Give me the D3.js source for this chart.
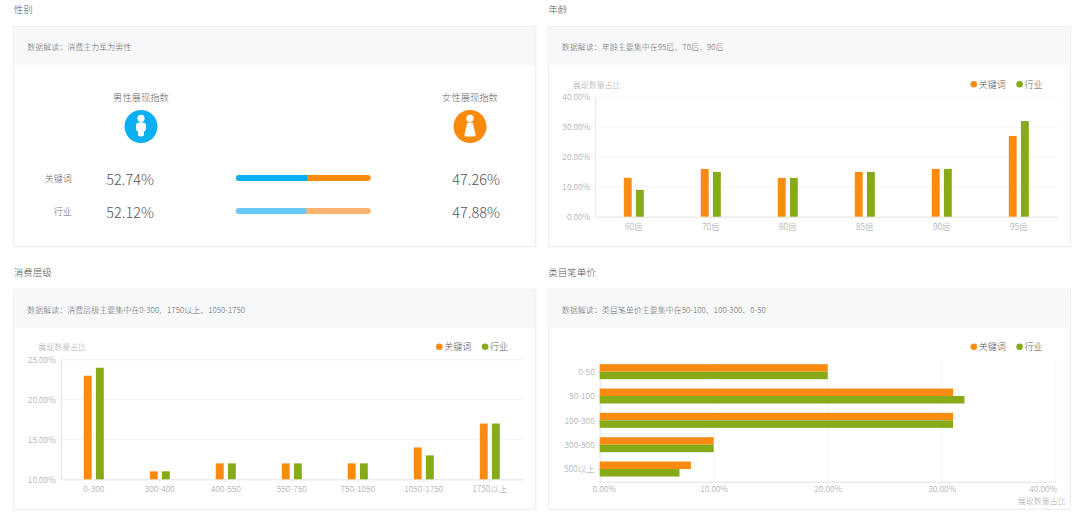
<!DOCTYPE html>
<html>
<head>
<meta charset="utf-8">
<script src="https://cdn.jsdelivr.net/npm/d3@7"></script>
<style>
  body { margin: 0; background: #fff; }
  text { font-family: "Noto Sans CJK SC", "Noto Sans", sans-serif; font-weight: 300; }
</style>
</head>
<body>
<div id="chart"></div>
<script>
// ---- data ----
const SERIES = ["关键词", "行业"];

const GENDER_ROWS = ["关键词", "行业"];
const MALE = [52.74, 52.12];
const FEMALE = [47.26, 47.88];

const AGE_CATS = ["60后", "70后", "80后", "85后", "90后", "95后"];
const AGE_KEYWORD = [13, 16, 13, 15, 16, 27];
const AGE_INDUSTRY = [9, 15, 13, 15, 16, 32];
const AGE_TICKS = [0, 10, 20, 30, 40];

const SPEND_CATS = ["0-300", "300-400", "400-550", "550-750", "750-1050", "1050-1750", "1750以上"];
const SPEND_KEYWORD = [23, 11, 12, 12, 12, 14, 17];
const SPEND_INDUSTRY = [24, 11, 12, 12, 12, 13, 17];
const SPEND_TICKS = [10, 15, 20, 25];

const PRICE_CATS = ["0-50", "50-100", "100-300", "300-500", "500以上"];
const PRICE_KEYWORD = [20, 31, 31, 10, 8];
const PRICE_INDUSTRY = [20, 32, 31, 10, 7];
const PRICE_TICKS = [0, 10, 20, 30, 40];

const TITLES = ["性别", "年龄", "消费层级", "类目笔单价"];
const NOTES = [
  "数据解读：消费主力军为男性",
  "数据解读：年龄主要集中在95后、70后、90后",
  "数据解读：消费层级主要集中在0-300、1750以上、1050-1750",
  "数据解读：类目笔单价主要集中在50-100、100-300、0-50"
];
const AXIS_NAME = "展现数量占比";

// ---- layout ----
const W = 1080, H = 519;
const CARD_W = 522, CARD_H = 220;
const ORANGE = "#f98b11", GREEN = "#86aa18";
const color = d3.scaleOrdinal().domain(SERIES).range([ORANGE, GREEN]);
const pct = d => d.toFixed(2) + "%";

const svg = d3.select("#chart").append("svg")
  .attr("width", W)
  .attr("height", H);

function card(x, y, title, note) {
  svg.append("text")
    .attr("x", x).attr("y", y - 17.3)
    .attr("dominant-baseline", "central")
    .attr("font-size", 9.5).attr("fill", "#555")
    .text(title);
  var g = svg.append("g").attr("transform", "translate(" + x + "," + y + ")");
  g.append("rect")
    .attr("width", CARD_W).attr("height", CARD_H)
    .attr("fill", "#fff").attr("stroke", "#ececec");
  g.append("rect")
    .attr("x", 0.5).attr("y", 0.5)
    .attr("width", CARD_W - 1).attr("height", 38)
    .attr("fill", "#f7f8fa");
  g.append("text")
    .attr("x", 13.5).attr("y", 20)
    .attr("dominant-baseline", "central")
    .attr("font-size", 8).attr("fill", "#666")
    .text(note);
  return g;
}

function legend(g) {
  var items = g.append("g").attr("transform", "translate(" + (CARD_W - 96.5) + ",57.5)");
  var item = items.selectAll("g").data(SERIES).join("g")
    .attr("transform", function(d, i) { return "translate(" + (i * 45.8) + ",0)"; });
  item.append("circle").attr("r", 3.3).attr("fill", function(d) { return color(d); });
  item.append("text")
    .attr("x", 5).attr("dominant-baseline", "central")
    .attr("font-size", 9).attr("fill", "#555")
    .text(function(d) { return d; });
}

function styleAxis(a, size) {
  a.select(".domain").attr("stroke", "#e3e3e3");
  a.selectAll(".tick line").attr("stroke", "#e3e3e3");
  a.selectAll(".tick text")
    .attr("fill", "#a0a0a0")
    .attr("font-size", size)
    .style("font-family", "'Noto Sans CJK SC', 'Noto Sans', sans-serif")
    .style("font-weight", 300);
}

/*********** vertical grouped bars ***********/
function vbars(g, cats, kv, iv, ticks) {
  var left = 47, right = CARD_W - 13, top = 70.5, bottom = 190;
  var x0 = d3.scaleBand().domain(cats).range([left, right]);
  var x1 = d3.scaleBand().domain(SERIES)
    .range([x0.bandwidth() / 2 - 10, x0.bandwidth() / 2 + 10])
    .paddingInner(0.35);
  var y = d3.scaleLinear().domain(d3.extent(ticks)).range([bottom, top]);

  g.append("g").selectAll("line").data(ticks.slice(1)).join("line")
    .attr("x1", left).attr("x2", right)
    .attr("y1", function(d) { return y(d); })
    .attr("y2", function(d) { return y(d); })
    .attr("stroke", "#f3f3f3");

  var ya = g.append("g")
    .attr("transform", "translate(" + left + ",0)")
    .call(d3.axisLeft(y).tickValues(ticks).tickSize(0).tickPadding(5).tickFormat(pct));
  styleAxis(ya, 8.5);

  var xa = g.append("g")
    .attr("transform", "translate(0," + bottom + ")")
    .call(d3.axisBottom(x0).tickSizeInner(3).tickSizeOuter(0).tickPadding(4));
  styleAxis(xa, 8.5);

  var rows = [];
  cats.forEach(function(c, j) {
    rows.push({ c: c, s: SERIES[0], v: kv[j] });
    rows.push({ c: c, s: SERIES[1], v: iv[j] });
  });
  g.append("g").selectAll("rect").data(rows).join("rect")
    .attr("x", function(d) { return x0(d.c) + x1(d.s); })
    .attr("y", function(d) { return y(d.v); })
    .attr("width", x1.bandwidth())
    .attr("height", function(d) { return bottom - y(d.v); })
    .attr("fill", function(d) { return color(d.s); });

  g.append("text")
    .attr("x", 24.5).attr("y", 57.5)
    .attr("dominant-baseline", "central")
    .attr("font-size", 8).attr("fill", "#aaa")
    .text(AXIS_NAME);
  legend(g);
}

/*********** horizontal grouped bars ***********/
function hbars(g, cats, kv, iv, ticks) {
  var left = 51.4, right = 507.4, top = 70.7, bottom = 192.4;
  var x = d3.scaleLinear().domain(d3.extent(ticks)).range([left, right]);
  var y0 = d3.scaleBand().domain(cats).range([top, bottom]);
  var y1 = d3.scaleBand().domain(SERIES)
    .range([y0.bandwidth() / 2 - 8, y0.bandwidth() / 2 + 7]);

  g.append("g").selectAll("line").data(ticks.slice(1)).join("line")
    .attr("x1", function(d) { return x(d); })
    .attr("x2", function(d) { return x(d); })
    .attr("y1", top).attr("y2", bottom)
    .attr("stroke", "#f3f3f3");

  var xa = g.append("g")
    .attr("transform", "translate(0," + bottom + ")")
    .call(d3.axisBottom(x).tickValues(ticks).tickSize(0).tickPadding(4.5).tickFormat(pct));
  styleAxis(xa, 8.5);
  xa.selectAll(".tick text").filter(function(d, i) { return i == 0; })
    .attr("dx", 4);
  xa.selectAll(".tick text").filter(function(d, i) { return i == ticks.length - 1; })
    .attr("text-anchor", "end").attr("dx", 1);

  var ya = g.append("g")
    .attr("transform", "translate(" + left + ",0)")
    .call(d3.axisLeft(y0).tickSizeInner(3).tickSizeOuter(0).tickPadding(2));
  styleAxis(ya, 8.5);

  var rows = [];
  cats.forEach(function(c, j) {
    rows.push({ c: c, s: SERIES[0], v: kv[j] });
    rows.push({ c: c, s: SERIES[1], v: iv[j] });
  });
  g.append("g").selectAll("rect").data(rows).join("rect")
    .attr("x", left)
    .attr("y", function(d) { return y0(d.c) + y1(d.s); })
    .attr("width", function(d) { return x(d.v) - left; })
    .attr("height", y1.bandwidth())
    .attr("fill", function(d) { return color(d.s); });

  g.append("text")
    .attr("x", CARD_W - 4.6).attr("y", 211.7)
    .attr("text-anchor", "end")
    .attr("dominant-baseline", "central")
    .attr("font-size", 8).attr("fill", "#aaa")
    .text(AXIS_NAME);
  legend(g);
}

/*********** gender panel ***********/
function gender(g) {
  var rowY = d3.scalePoint().domain(GENDER_ROWS).range([151.3, 184.3]);
  var bx = d3.scaleLinear().domain([0, 100]).range([222.2, 356.9]);
  var male = ["#0bb0f2", "#66caf6"], female = ["#fa8a0c", "#fbb36f"];
  var heads = [
    { label: "男性展现指数", x: 127.2, fill: "#0bb0f2", kind: "m" },
    { label: "女性展现指数", x: 456.2, fill: "#fa8a0c", kind: "f" }
  ];
  var h = g.selectAll("g.head").data(heads).join("g").attr("class", "head")
    .attr("transform", function(d) { return "translate(" + d.x + ",0)"; });
  h.append("text")
    .attr("y", 70).attr("text-anchor", "middle")
    .attr("dominant-baseline", "central")
    .attr("font-size", 9.3).attr("fill", "#666")
    .text(function(d) { return d.label; });
  h.append("circle").attr("cy", 99.8).attr("r", 16.5).attr("fill", function(d) { return d.fill; });
  h.append("circle").attr("cy", 91.6).attr("r", 3.6).attr("fill", "#fff");
  h.append("path")
    .attr("transform", "translate(0,99.8)")
    .attr("fill", "#fff")
    .attr("d", function(d) {
      return d.kind == "m"
        ? "M-4,-3.5 Q0,-5 4,-3.5 Q5,-3 5,0 L5,3 Q4,5 3,5 L3,9 Q0,11 -3,9 L-3,5 Q-4,5 -5,3 L-5,0 Q-5,-3 -4,-3.5 Z"
        : "M-2,-4 L2,-4 Q3,-4 3.5,-1 L5.5,8 Q6,10 4,10 L-4,10 Q-6,10 -5.5,8 L-3.5,-1 Q-3,-4 -2,-4 Z";
    });

  var r = g.selectAll("g.row").data(GENDER_ROWS).join("g").attr("class", "row")
    .attr("transform", function(d) { return "translate(0," + rowY(d) + ")"; });
  r.append("text")
    .attr("x", 57.9).attr("text-anchor", "end")
    .attr("dominant-baseline", "central")
    .attr("font-size", 9).attr("fill", "#666")
    .text(function(d) { return d; });
  r.append("text")
    .attr("x", 92.5)
    .attr("dominant-baseline", "central")
    .attr("font-size", 14.5).attr("fill", "#555")
    .text(function(d, i) { return MALE[i].toFixed(2) + "%"; });
  r.append("text")
    .attr("x", 486.2).attr("text-anchor", "end")
    .attr("dominant-baseline", "central")
    .attr("font-size", 14.5).attr("fill", "#555")
    .text(function(d, i) { return FEMALE[i].toFixed(2) + "%"; });
  // full track in female colour, male share laid over it
  r.append("rect")
    .attr("x", bx(0)).attr("y", -3)
    .attr("width", bx(100) - bx(0)).attr("height", 6).attr("rx", 3)
    .attr("fill", function(d, i) { return female[i]; });
  r.append("rect")
    .attr("x", bx(0)).attr("y", -3)
    .attr("width", function(d, i) { return bx(MALE[i]) - bx(0); })
    .attr("height", 6).attr("rx", 3)
    .attr("fill", function(d, i) { return male[i]; });
  r.append("rect")
    .attr("x", function(d, i) { return bx(MALE[i]) - 4; }).attr("y", -3)
    .attr("width", 4).attr("height", 6)
    .attr("fill", function(d, i) { return male[i]; });
}

var c1 = card(13.8, 26.7, TITLES[0], NOTES[0]);
var c2 = card(548.3, 26.7, TITLES[1], NOTES[1]);
var c3 = card(13.8, 289.3, TITLES[2], NOTES[2]);
var c4 = card(548.3, 289.3, TITLES[3], NOTES[3]);

gender(c1);
vbars(c2, AGE_CATS, AGE_KEYWORD, AGE_INDUSTRY, AGE_TICKS);
vbars(c3, SPEND_CATS, SPEND_KEYWORD, SPEND_INDUSTRY, SPEND_TICKS);
hbars(c4, PRICE_CATS, PRICE_KEYWORD, PRICE_INDUSTRY, PRICE_TICKS);
</script>
</body>
</html>
